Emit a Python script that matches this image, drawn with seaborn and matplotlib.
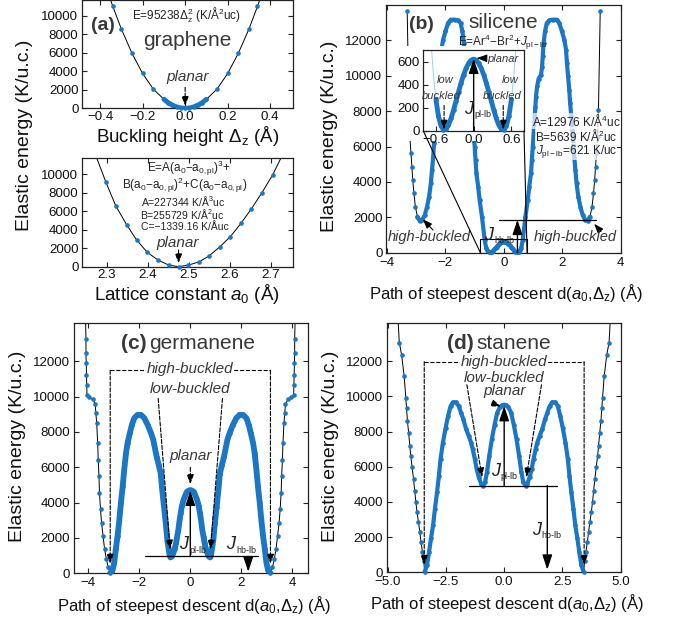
import numpy as np
import matplotlib
matplotlib.use("Agg")
import matplotlib.pyplot as plt
import seaborn as sns
from matplotlib.patches import Rectangle, ConnectionPatch

# seaborn style first, fonts after (set_style resets font.family)
sns.set_style("ticks")
plt.rcParams['font.family'] = ['Liberation Sans', 'DejaVu Sans']
plt.rcParams['mathtext.fontset'] = 'custom'
plt.rcParams['mathtext.rm'] = 'Liberation Sans'
plt.rcParams['mathtext.it'] = 'Liberation Sans:italic'
plt.rcParams['mathtext.bf'] = 'Liberation Sans:bold'

BLUE = '#1b76c4'
LIGHT = '#8fd4f7'
GREY = '#383838'

# ---- (a) graphene: buckling scan ----
gr_dz = [-0.355, -0.34, -0.30, -0.25, -0.20, -0.15, -0.10, -0.08, -0.06, -0.04, -0.02, 0.0,
         0.02, 0.04, 0.06, 0.08, 0.10, 0.15, 0.20, 0.25, 0.30, 0.34, 0.355]
gr_E = [12000, 11000, 8560, 5940, 3760, 2080, 970, 610, 340, 150, 40, 0,
        40, 150, 340, 610, 970, 2080, 3760, 5940, 8560, 11000, 12000]

# ---- (a) graphene: lattice constant scan ----
lat_a = [2.270, 2.298, 2.322, 2.349, 2.373, 2.399, 2.425, 2.451, 2.475, 2.499,
         2.526, 2.550, 2.576, 2.601, 2.627, 2.652, 2.678, 2.704, 2.730]
lat_E = [12400, 9140, 6580, 4500, 2880, 1550, 720, 180, 0, 180,
         540, 1190, 2160, 3240, 4680, 6220, 7990, 9900, 12240]

# ---- (b) silicene, half path d >= 0 (curve is symmetric) ----
si_d = [0.0, 0.04, 0.08, 0.12, 0.16, 0.20, 0.24, 0.28, 0.32, 0.36, 0.40, 0.44, 0.48, 0.52,
        0.56, 0.60, 0.65, 0.745, 0.825, 0.875, 0.935, 0.965, 0.995, 1.025, 1.055, 1.085,
        1.105, 1.145, 1.195, 1.275, 1.315, 1.335, 1.365, 1.415, 1.475, 1.565, 1.675, 1.815,
        1.905, 1.995, 2.075, 2.135, 2.165, 2.205, 2.245, 2.275, 2.315, 2.355, 2.385, 2.415,
        2.455, 2.495, 2.555, 2.625, 2.705, 2.795, 2.875, 2.955, 3.025, 3.075, 3.115, 3.145,
        3.175, 3.215, 3.245, 3.305]
si_E = [621, 612, 585, 542, 485, 416, 339, 259, 180, 108, 51, 16, 11, 45,
        129, 273, 700, 2040, 2980, 3740, 4490, 5240, 6000, 6750, 7500, 8260,
        8820, 9400, 9830, 10050, 10500, 11090, 11840, 12500, 12980, 13130, 13170, 13170,
        12980, 12500, 12040, 11470, 10720, 9960, 9210, 8450, 7700, 6940, 6190, 5430,
        4680, 3920, 3170, 2600, 2120, 1840, 1800, 2040, 2600, 3360, 4110, 4870,
        5620, 6560, 8070, 13640]

# silicene inset (zoom on the planar / low-buckled region)
si_in_d = [0.0, 0.04, 0.08, 0.12, 0.16, 0.20, 0.24, 0.28, 0.32, 0.36, 0.40, 0.44, 0.48,
           0.52, 0.56, 0.60, 0.64, 0.68, 0.72]
si_in_E = [621, 612, 585, 542, 485, 416, 339, 259, 180, 108, 51, 16, 11,
           45, 129, 273, 490, 790, 1180]

# ---- (c) germanene, half path ----
ge_d = [0.0, 0.07, 0.14, 0.20, 0.27, 0.33, 0.38, 0.43, 0.47, 0.52, 0.56, 0.62, 0.67, 0.72,
        0.78, 0.82, 0.90, 0.96, 1.03, 1.10, 1.16, 1.24, 1.32, 1.45, 1.54, 1.67, 1.80, 1.93,
        2.07, 2.20, 2.29, 2.37, 2.46, 2.52, 2.59, 2.65, 2.72, 2.78, 2.85, 2.92, 2.98, 3.05,
        3.14, 3.22, 3.29, 3.36, 3.42, 3.48, 3.52, 3.56, 3.58, 3.61, 3.63, 3.67, 3.70, 3.73,
        3.83, 3.96, 4.05, 4.06, 4.07, 4.08, 4.09, 4.09, 4.11]
ge_E = [4710, 4680, 4610, 4400, 4140, 3800, 3390, 2900, 2450, 2050, 1700, 1350, 1130, 960,
        900, 1100, 1870, 2800, 3760, 4700, 5650, 6150, 6600, 7540, 7940, 8400, 8780, 8970,
        8970, 8780, 8400, 7940, 7370, 6810, 5870, 4930, 4000, 3060, 2120, 1370, 620, 150,
        20, 340, 810, 1370, 2120, 2870, 3620, 4560, 5500, 6440, 7370, 8500, 9060, 9590,
        9850, 9960, 10090, 10660, 11220, 11880, 12480, 13280, 14500]

# ---- (d) stanene, half path ----
st_d = [0.0, 0.09, 0.18, 0.30, 0.41, 0.53, 0.64, 0.74, 0.82, 0.92, 0.99, 1.09, 1.18, 1.26,
        1.35, 1.42, 1.52, 1.63, 1.75, 1.85, 1.95, 2.06, 2.20, 2.30, 2.41, 2.51, 2.63, 2.73,
        2.80, 2.88, 2.97, 3.05, 3.14, 3.22, 3.31, 3.41, 3.45, 3.51, 3.57, 3.62, 3.68, 3.74,
        3.79, 3.84, 3.89, 3.95, 4.01, 4.05, 4.10, 4.15, 4.19, 4.22, 4.29, 4.40, 4.50, 4.56]
st_E = [9530, 9490, 9400, 9060, 8400, 7560, 6620, 5680, 5120, 4930, 5030, 5400, 5870, 6440,
        7000, 7370, 7750, 8120, 8690, 9060, 9440, 9660, 9660, 9440, 8870, 8220, 7370, 6440,
        5500, 4560, 3620, 2680, 1930, 1180, 430, 20, 620, 1180, 1740, 2300, 2870, 3430,
        4000, 4650, 5310, 5970, 6620, 7190, 7940, 8600, 9340, 9900, 11130, 12350, 13060, 14500]


def full_path(half_d, half_E):
    # the paths run symmetrically through the planar structure at d = 0
    d = np.asarray(half_d, float)
    e = np.asarray(half_E, float)
    return np.concatenate([-d[::-1], d[1:]]), np.concatenate([e[::-1], e[1:]])


def draw_curve(ax, x, y, top, band=None, band_lw=3.0, line_color='k', dots_max=None):
    x = np.asarray(x, float)
    y = np.asarray(y, float)
    sns.lineplot(x=x, y=y, ax=ax, color=line_color, lw=0.7, sort=False, estimator=None, zorder=2)
    if band is not None:
        m = np.abs(x) <= band
        sns.lineplot(x=x[m], y=y[m], ax=ax, color=BLUE, lw=band_lw, sort=False,
                     estimator=None, zorder=2.5, solid_capstyle='round')
    v = y <= top
    if dots_max is not None:
        v &= np.abs(x) <= dots_max
    sns.scatterplot(x=x[v], y=y[v], ax=ax, s=11, color=BLUE, linewidth=0, clip_on=False, zorder=3)


def style_axes(ax, xlim, ylim, xticks, yticks, xpad=2.8):
    ax.set_xlim(xlim)
    ax.set_ylim(ylim)
    ax.set_xticks(xticks)
    ax.set_yticks(yticks)
    ax.set_xlabel('')
    ax.set_ylabel('')
    ax.tick_params(direction='in', top=True, right=True, length=3.5, width=0.8,
                   labelsize=9.6, pad=2.6, color='#222', labelcolor='#111')
    ax.tick_params(axis='x', pad=xpad)
    for s in ax.spines.values():
        s.set_linewidth(0.9)
        s.set_color('#222')


def arrow(ax, x0, y0, x1, y1, dashed=False, big=False):
    if big:
        props = dict(arrowstyle='-|>,head_length=0.75,head_width=0.25', lw=1.0, mutation_scale=12)
    else:
        props = dict(arrowstyle='-|>,head_length=0.8,head_width=0.3', lw=0.8, mutation_scale=7)
    props.update(color='k', ls='--' if dashed else '-', shrinkA=0, shrinkB=0)
    ax.annotate('', xy=(x1, y1), xytext=(x0, y0), arrowprops=props, zorder=4)


def jlabel(ax, x, y, sub, size=13):
    ax.text(x, y, 'J', fontsize=size, style='italic', color='#222', ha='left', va='baseline', zorder=5)
    ax.annotate(sub, xy=(x, y), xytext=(size * 0.55, -2.5), textcoords='offset points',
                fontsize=size * 0.5, color='#222', ha='left', va='baseline', zorder=5)


def note(ax, x, y, s, size=11, **kw):
    ax.text(x, y, s, fontsize=size, style='italic', color=GREY, ha='center', va='center', zorder=5, **kw)


fig = plt.figure(figsize=(6.83, 6.27), dpi=100)
ax_a1 = fig.add_axes([0.1201, 0.8273, 0.3082, 0.1727])
ax_a2 = fig.add_axes([0.1201, 0.5746, 0.3085, 0.1734])
ax_b = fig.add_axes([0.5652, 0.5970, 0.3433, 0.3951])
ax_c = fig.add_axes([0.1083, 0.0856, 0.3422, 0.3987])
ax_d = fig.add_axes([0.5662, 0.0872, 0.3426, 0.3971])
bg = fig.add_axes([0.5783, 0.7751, 0.1889, 0.1515], zorder=1)
ax_in = fig.add_axes([0.6198, 0.7911, 0.1474, 0.1292], zorder=2)

yt = [0, 2000, 4000, 6000, 8000, 10000]
yt2 = [0, 2000, 4000, 6000, 8000, 10000, 12000]

# ---------------- (a) top ----------------
draw_curve(ax_a1, gr_dz, gr_E, top=11700, band=0.101, band_lw=3.5)
style_axes(ax_a1, (-0.485, 0.505), (0, 11700), [-0.4, -0.2, 0.0, 0.2, 0.4], yt, xpad=1.6)
ax_a1.text(-0.387, 8900, '(a)', fontsize=14, fontweight='bold', color=GREY, ha='center', va='center')
ax_a1.text(0.008, 7270, 'graphene', fontsize=15, color=GREY, ha='center', va='center')
ax_a1.text(0.008, 10080, r'E=95238$\Delta_{\rm z}^{2}$ (K/Å$^{2}$uc)', fontsize=8.5,
           color='#222', ha='center', va='center')
note(ax_a1, 0.01, 3350, 'planar')
arrow(ax_a1, 0.0, 2270, 0.0, 250, dashed=True)

# ---------------- (a) bottom ----------------
draw_curve(ax_a2, lat_a, lat_E, top=11730)
style_axes(ax_a2, (2.24, 2.753), (0, 11730), [2.3, 2.4, 2.5, 2.6, 2.7], yt, xpad=1.6)
ax_a2.text(2.500, 10560, r'E=A(a$_{\rm 0}$−a$_{\rm 0,pl}$)$^{3}$+', fontsize=8.5, color='#222', ha='center', va='center')
ax_a2.text(2.491, 8760, r'B(a$_{\rm 0}$−a$_{\rm 0,pl}$)$^{2}$+C(a$_{\rm 0}$−a$_{\rm 0,pl}$)', fontsize=8.5,
           color='#222', ha='center', va='center')
ax_a2.text(2.487, 7090, r'A=227344 K/Å$^{3}$uc', fontsize=7.5, color='#222', ha='center', va='center')
ax_a2.text(2.483, 5690, r'B=255729 K/Å$^{2}$uc', fontsize=7.5, color='#222', ha='center', va='center')
ax_a2.text(2.490, 4280, 'C=−1339.16 K/Åuc', fontsize=7.5, color='#222', ha='center', va='center')
note(ax_a2, 2.472, 2520, 'planar')
arrow(ax_a2, 2.475, 1800, 2.475, 370, dashed=True)

# ---------------- (b) silicene ----------------
sx, sy = full_path(si_d, si_E)
draw_curve(ax_b, sx, sy, top=14000, band=3.0, band_lw=3.0)
style_axes(ax_b, (-4.03, 3.98), (0, 14000), [-4, -2, 0, 2, 4], yt2)
ax_b.text(-2.81, 12890, '(b)', fontsize=14, fontweight='bold', color=GREY, ha='center', va='center')
ax_b.text(-0.03, 13000, 'silicene', fontsize=15, color=GREY, ha='center', va='center')
ax_b.text(-0.03, 11900, r'E=Ar$^{4}$−Br$^{2}$+$J_{\rm pl-lb}$', fontsize=8.5, color='#222', ha='center', va='center')
box = dict(facecolor='white', edgecolor='none', alpha=0.7, pad=0.1)
ax_b.text(2.49, 7460, r'A=12976 K/Å$^{4}$uc', fontsize=8.5, color='#222', ha='center', va='center', bbox=box, zorder=5)
ax_b.text(2.49, 6620, r'B=5639 K/Å$^{2}$uc', fontsize=8.5, color='#222', ha='center', va='center', bbox=box, zorder=5)
ax_b.text(2.49, 5720, r'$J_{\rm pl-lb}$=621 K/uc', fontsize=8.5, color='#222', ha='center', va='center', bbox=box, zorder=5)
note(ax_b, -2.54, 860, 'high-buckled', size=10.5)
note(ax_b, 2.44, 870, 'high-buckled', size=10.5)
arrow(ax_b, -2.42, 1280, -2.77, 1890)
arrow(ax_b, 3.33, 1190, 3.10, 1630)
ax_b.add_patch(Rectangle((-0.8, 0), 1.6, 780, fill=False, lw=0.8, ec='k', zorder=4))
ax_b.plot([-0.17, 3.16], [1860, 1860], color='k', lw=0.9, zorder=4)
arrow(ax_b, 0.47, 0, 0.47, 1860, big=True)
jlabel(ax_b, -0.66, 720, 'hb-lb')

# white backing behind the inset and its tick labels
bg.set_xticks([])
bg.set_yticks([])
for s in bg.spines.values():
    s.set_visible(False)
bg.patch.set_facecolor('white')

ix, iy = full_path(si_in_d, si_in_E)
draw_curve(ax_in, ix, iy, top=700, band=0.6, band_lw=3.5, line_color=LIGHT, dots_max=0.61)
style_axes(ax_in, (-0.8, 0.8), (0, 700), [-0.6, 0.0, 0.6], [0, 200, 400, 600], xpad=2.2)
ax_in.tick_params(right=False, top=False)
arrow(ax_in, 0.0, 0, 0.0, 625, big=True)
jlabel(ax_in, -0.15, 150, 'pl-lb')
ax_in.annotate('planar', xy=(0.05, 630), xytext=(0.22, 625), fontsize=8, style='italic', color=GREY,
               ha='left', va='center',
               arrowprops=dict(arrowstyle='-|>,head_length=0.8,head_width=0.3', color='k', lw=0.6,
                               mutation_scale=8, shrinkA=0, shrinkB=0))
note(ax_in, -0.46, 440, 'low', size=8)
note(ax_in, -0.52, 300, 'buckled', size=8)
note(ax_in, 0.58, 440, 'low', size=8)
note(ax_in, 0.45, 300, 'buckled', size=8)
arrow(ax_in, -0.47, 220, -0.47, 12, dashed=True)
arrow(ax_in, 0.47, 220, 0.47, 12, dashed=True)

for xa, xb in [((0, 0), (-0.8, 0)), ((1, 0), (0.8, 0))]:
    con = ConnectionPatch(xyA=xa, coordsA=ax_in.transAxes, xyB=xb, coordsB=ax_b.transData,
                          color='k', lw=0.8, zorder=5)
    fig.add_artist(con)

# ---------------- (c) germanene ----------------
gx, gy = full_path(ge_d, ge_E)
draw_curve(ax_c, gx, gy, top=14150, band=3.15, band_lw=4.2)
style_axes(ax_c, (-4.56, 4.6), (0, 14150), [-4, -2, 0, 2, 4], yt2)
ax_c.text(-1.70, 13000, '(c)', fontsize=15, fontweight='bold', color=GREY, ha='right', va='center')
ax_c.text(-1.62, 13000, 'germanene', fontsize=15, color=GREY, ha='left', va='center')
ax_c.plot([-3.14, 3.14], [11500, 11500], ls='--', color='k', lw=0.8, zorder=4)
arrow(ax_c, -3.14, 11500, -3.14, 550, dashed=True)
arrow(ax_c, 3.14, 11500, 3.14, 550, dashed=True)
note(ax_c, 0, 11550, 'high-buckled', bbox=dict(facecolor='white', edgecolor='none', pad=0.5))
note(ax_c, 0, 10450, 'low-buckled')
arrow(ax_c, -1.26, 9900, -0.79, 1350, dashed=True)
arrow(ax_c, 1.26, 9900, 0.79, 1350, dashed=True)
note(ax_c, 0, 6620, 'planar')
arrow(ax_c, 0, 6000, 0, 5050, dashed=True)
ax_c.plot([-1.78, 2.67], [960, 960], color='k', lw=0.9, zorder=4)
arrow(ax_c, 0, 960, 0, 4680, big=True)
arrow(ax_c, 2.27, 960, 2.27, 90, big=True)
jlabel(ax_c, -0.43, 1370, 'pl-lb')
jlabel(ax_c, 1.40, 1370, 'hb-lb')

# ---------------- (d) stanene ----------------
tx, ty = full_path(st_d, st_E)
draw_curve(ax_d, tx, ty, top=14150, band=3.42, band_lw=3.0)
style_axes(ax_d, (-5.04, 4.93), (0, 14150), [-5.0, -2.5, 0.0, 2.5, 5.0], yt2)
ax_d.text(-1.30, 13000, '(d)', fontsize=15, fontweight='bold', color=GREY, ha='right', va='center')
ax_d.text(-1.21, 13000, 'stanene', fontsize=15, color=GREY, ha='left', va='center')
ax_d.plot([-3.43, 3.43], [11970, 11970], ls='--', color='k', lw=0.8, zorder=4)
arrow(ax_d, -3.43, 11970, -3.43, 430, dashed=True)
arrow(ax_d, 3.43, 11970, 3.43, 430, dashed=True)
note(ax_d, 0, 11970, 'high-buckled', bbox=dict(facecolor='white', edgecolor='none', pad=0.5))
note(ax_d, 0, 11030, 'low-buckled')
note(ax_d, 0, 10280, 'planar')
arrow(ax_d, -1.60, 10660, -0.95, 5400, dashed=True)
arrow(ax_d, 1.60, 10660, 0.95, 5400, dashed=True)
arrow(ax_d, -0.52, 9620, -0.14, 9420, dashed=True)
ax_d.plot([-1.52, 2.27], [4930, 4930], color='k', lw=0.9, zorder=4)
arrow(ax_d, 0, 4930, 0, 9450, big=True)
arrow(ax_d, 1.85, 4930, 1.85, 150, big=True)
jlabel(ax_d, -0.57, 5500, 'pl-lb')
jlabel(ax_d, 1.18, 2120, 'hb-lb')

# ---------------- axis titles ----------------
ylab = 'Elastic energy (K/u.c.)'
fig.text(0.0366, 0.7847, ylab, rotation=90, fontsize=14, ha='center', va='center', color='#111')
fig.text(0.4817, 0.7820, ylab, rotation=90, fontsize=14, ha='center', va='center', color='#111')
fig.text(0.0249, 0.2887, ylab, rotation=90, fontsize=14, ha='center', va='center', color='#111')
fig.text(0.4832, 0.2887, ylab, rotation=90, fontsize=14, ha='center', va='center', color='#111')

fig.text(0.2742, 0.7831, r'Buckling height $\Delta_{\rm z}$ (Å)', fontsize=13.5, ha='center', va='center', color='#111')
fig.text(0.2738, 0.5310, r'Lattice constant $a_{\rm 0}$ (Å)', fontsize=13.5, ha='center', va='center', color='#111')
path_lab = r'Path of steepest descent d($a_{\rm 0}$,$\Delta_{\rm z}$) (Å)'
fig.text(0.7406, 0.5322, path_lab, fontsize=12, ha='center', va='center', color='#111')
fig.text(0.2837, 0.0351, path_lab, fontsize=12, ha='center', va='center', color='#111')
fig.text(0.7419, 0.0378, path_lab, fontsize=12, ha='center', va='center', color='#111')

fig.savefig('out.png', dpi=100)
